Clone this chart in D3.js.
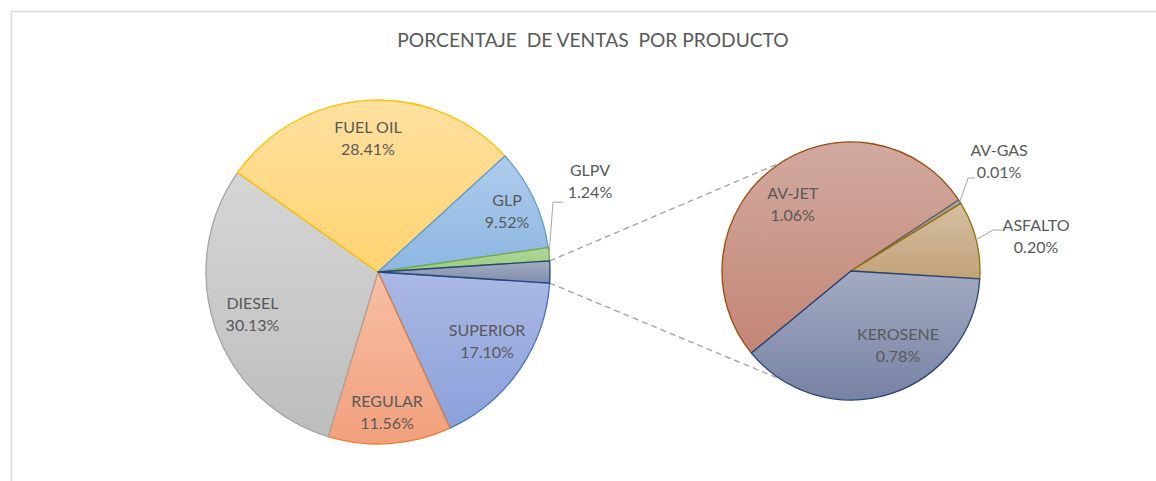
<!DOCTYPE html>
<html>
<head>
<meta charset="utf-8">
<script src="https://cdn.jsdelivr.net/npm/d3@7"></script>
<style>
  html, body { margin: 0; padding: 0; background: #fff; }
  svg { display: block; }
  text { font-family: Lato, "Open Sans", sans-serif; }
</style>
</head>
<body>
<svg id="chart" width="1156" height="481"></svg>
<script>
// ---------- DATA ----------
const title = "PORCENTAJE  DE VENTAS  POR PRODUCTO";
// main pie, clockwise order starting just after the "other" wedge
const mainCategories = ["SUPERIOR", "REGULAR", "DIESEL", "FUEL OIL", "GLP", "GLPV"];
const mainValues     = [17.10, 11.56, 30.13, 28.41, 9.52, 1.24];
// secondary pie (breakdown of the "other" wedge), clockwise order
const subCategories = ["AV-JET", "AV-GAS", "ASFALTO", "KEROSENE"];
const subValues     = [1.06, 0.01, 0.20, 0.78];

// ---------- STYLE / LAYOUT ----------
const colors = {
  "SUPERIOR": { top: "#AAB8E4", bot: "#8BA1DA", stroke: "#4472C4" },
  "REGULAR":  { top: "#F7BFA6", bot: "#F2A07C", stroke: "#ED7D31" },
  "DIESEL":   { top: "#D6D6D6", bot: "#BDBDBD", stroke: "#A5A5A5" },
  "FUEL OIL": { top: "#FFE0A0", bot: "#FFD470", stroke: "#FFC000" },
  "GLP":      { top: "#AFCCEC", bot: "#8DB6E2", stroke: "#5B9BD5" },
  "GLPV":     { top: "#B2D69A", bot: "#9ACB7F", stroke: "#70AD47" },
  "__OTHER__":{ top: "#A3AEC4", bot: "#7F8DA9", stroke: "#264478" },
  "AV-JET":   { top: "#D1A99F", bot: "#C38676", stroke: "#9E480E" },
  "AV-GAS":   { top: "#A8A8A8", bot: "#8E8E8E", stroke: "#636363" },
  "ASFALTO":  { top: "#D5C0A3", bot: "#C1A279", stroke: "#997300" },
  "KEROSENE": { top: "#A3AAC1", bot: "#7782A4", stroke: "#264478" }
};
const mainC = { x: 378, y: 272, r: 172 };
const subC  = { x: 851, y: 271, r: 129 };
const subStartDeg = 230.5;
const connectorSpreadDeg = 57.5;

// label placement: [bearing deg, radius fraction]
const labelPolar = {
  "FUEL OIL": [-4.3, 0.78], "GLP": [64.7, 0.83], "SUPERIOR": [122.3, 0.75],
  "REGULAR": [176.3, 0.815], "DIESEL": [251.4, 0.77], "GLPV": [66.8, 1.341],
  "AV-JET": [319.1, 0.69], "KEROSENE": [147.6, 0.68],
  "AV-GAS": [53.4, 1.43], "ASFALTO": [79.3, 1.46]
};
// leader lines for outside labels: elbow & end relative to label centre
const leaders = {
  "GLPV":    { elbow: [-37, 21], end: [-27, 21] },
  "AV-GAS":  { elbow: [-31, 17], end: [-24, 17] },
  "ASFALTO": { elbow: [-43, -6], end: [-34, -6] }
};

// ---------- DRAW ----------
const svg = d3.select("#chart");
const defs = svg.append("defs");
const rad = d => d * Math.PI / 180;
const fmt = v => v.toFixed(2) + "%";

// chart border
svg.append("path").attr("d", "M11.5,481 V11.5 H1156")
  .attr("fill", "none").attr("stroke", "#D9D9D9").attr("stroke-width", 1.5);

svg.append("text")
  .attr("x", 593).attr("y", 47)
  .attr("text-anchor", "middle")
  .style("white-space", "pre")
  .attr("font-size", 19.2).attr("fill", "#595959")
  .text(title);

Object.entries(colors).forEach(([k, c], i) => {
  const g = defs.append("linearGradient").attr("id", "g" + i)
    .attr("x1", 0).attr("y1", 0).attr("x2", 0).attr("y2", 1);
  g.append("stop").attr("offset", "0%").attr("stop-color", c.top);
  g.append("stop").attr("offset", "100%").attr("stop-color", c.bot);
  c.id = "g" + i;
});

const otherValue = d3.sum(subValues);
const mainData = mainCategories.map((c, i) => ({ name: c, value: mainValues[i] }))
  .concat([{ name: "__OTHER__", value: otherValue }]);
const total = d3.sum(mainData, d => d.value);
const otherDeg = otherValue / total * 360;
const mainStart = rad(90 + otherDeg / 2);

const mainPie = d3.pie().sort(null).value(d => d.value)
  .startAngle(mainStart).endAngle(mainStart + 2 * Math.PI);
const subData = subCategories.map((c, i) => ({ name: c, value: subValues[i] }));
const subPie = d3.pie().sort(null).value(d => d.value)
  .startAngle(rad(subStartDeg)).endAngle(rad(subStartDeg) + 2 * Math.PI);

function drawPie(arcs, C) {
  const arc = d3.arc().innerRadius(0).outerRadius(C.r);
  const g = svg.append("g").attr("transform", `translate(${C.x},${C.y})`);
  g.selectAll("path").data(arcs).join("path")
    .attr("d", arc)
    .attr("fill", d => `url(#${colors[d.data.name].id})`)
    .attr("stroke", d => colors[d.data.name].stroke)
    .attr("stroke-width", 1.3)
    .attr("stroke-linejoin", "round");
  return g;
}

const mainArcs = mainPie(mainData);
const subArcs = subPie(subData);

// connector dashed lines
const otherArc = mainArcs.find(a => a.data.name === "__OTHER__");
const pt = (C, ang, r) => [C.x + r * Math.sin(ang), C.y - r * Math.cos(ang)];
const lineGen = d3.line();
[[otherArc.startAngle, rad(270 + connectorSpreadDeg)],
 [otherArc.endAngle, rad(270 - connectorSpreadDeg)]].forEach(([a1, a2]) => {
  svg.append("path")
    .attr("d", lineGen([pt(mainC, a1, mainC.r), pt(subC, a2, subC.r)]))
    .attr("stroke", "#A6A6A6").attr("stroke-width", 1.4)
    .attr("stroke-dasharray", "6,4").attr("fill", "none");
});

drawPie(mainArcs, mainC);
drawPie(subArcs, subC);

function drawLabels(arcs, C) {
  arcs.forEach(a => {
    const name = a.data.name;
    if (!labelPolar[name]) return;
    const [b, f] = labelPolar[name];
    const [lx, ly] = pt(C, rad(b), f * C.r);
    if (leaders[name]) {
      const L = leaders[name];
      const mid = (a.startAngle + a.endAngle) / 2;
      svg.append("path")
        .attr("d", lineGen([pt(C, mid, C.r),
                            [lx + L.elbow[0], ly + L.elbow[1]],
                            [lx + L.end[0], ly + L.end[1]]]))
        .attr("stroke", "#A6A6A6").attr("stroke-width", 1).attr("fill", "none");
    }
    const t = svg.append("text").attr("text-anchor", "middle")
      .attr("font-size", 16).attr("fill", "#595959");
    t.append("tspan").attr("x", lx).attr("y", ly - 5).text(name);
    t.append("tspan").attr("x", lx).attr("y", ly + 17).text(fmt(a.data.value));
  });
}
drawLabels(mainArcs, mainC);
drawLabels(subArcs, subC);
</script>
</body>
</html>
